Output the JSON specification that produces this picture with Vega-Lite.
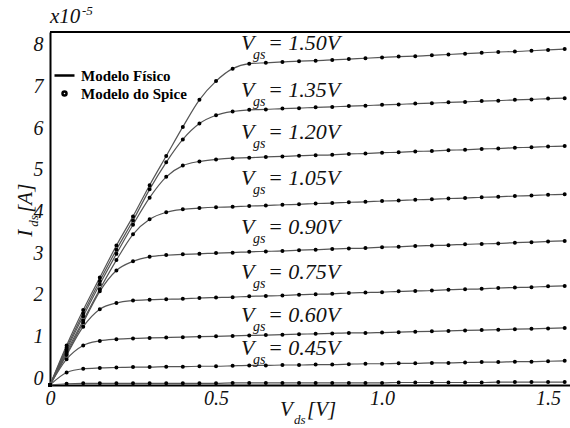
{
  "$schema": "https://vega.github.io/schema/vega-lite/v6.json",
  "width": 520,
  "height": 353,
  "autosize": {"type": "none"},
  "padding": {"left": 50, "top": 32, "right": 0, "bottom": 43},
  "background": "white",
  "config": {
    "view": {"stroke": null}
  },
  "datasets": {
    "curves": [
      {"v": 0.00, "g150": 0, "g135": 0, "g120": 0, "g105": 0, "g090": 0, "g075": 0, "g060": 0, "g045": 0, "g030": 0},
      {"v": 0.05, "g150": 0.95, "g135": 0.9, "g120": 0.85, "g105": 0.8, "g090": 0.75, "g075": 0.72, "g060": 0.62, "g045": 0.3, "g030": 0.03},
      {"v": 0.10, "g150": 1.8, "g135": 1.72, "g120": 1.65, "g105": 1.55, "g090": 1.5, "g075": 1.4, "g060": 0.95, "g045": 0.39, "g030": 0.04},
      {"v": 0.15, "g150": 2.58, "g135": 2.5, "g120": 2.42, "g105": 2.3, "g090": 2.25, "g075": 1.82, "g060": 1.06, "g045": 0.41, "g030": 0.04},
      {"v": 0.20, "g150": 3.35, "g135": 3.25, "g120": 3.15, "g105": 3.0, "g090": 2.75, "g075": 1.97, "g060": 1.10, "g045": 0.42, "g030": 0.04},
      {"v": 0.25, "g150": 4.05, "g135": 3.95, "g120": 3.85, "g105": 3.62, "g090": 2.97, "g075": 2.03, "g060": 1.12, "g045": 0.43, "g030": 0.04},
      {"v": 0.30, "g150": 4.8, "g135": 4.7, "g120": 4.5, "g105": 3.98, "g090": 3.08, "g075": 2.05, "g060": 1.13, "g045": 0.43, "g030": 0.04},
      {"v": 0.35, "g150": 5.5, "g135": 5.35, "g120": 5.0, "g105": 4.15, "g090": 3.12, "g075": 2.06, "g060": 1.14, "g045": 0.44, "g030": 0.04},
      {"v": 0.40, "g150": 6.2, "g135": 5.9, "g120": 5.27, "g105": 4.22, "g090": 3.14, "g075": 2.07, "g060": 1.15, "g045": 0.44, "g030": 0.04},
      {"v": 0.45, "g150": 6.85, "g135": 6.28, "g120": 5.37, "g105": 4.25, "g090": 3.15, "g075": 2.09, "g060": 1.16, "g045": 0.45, "g030": 0.04},
      {"v": 0.50, "g150": 7.3, "g135": 6.48, "g120": 5.42, "g105": 4.27, "g090": 3.17, "g075": 2.10, "g060": 1.17, "g045": 0.45, "g030": 0.04},
      {"v": 0.55, "g150": 7.6, "g135": 6.57, "g120": 5.45, "g105": 4.28, "g090": 3.18, "g075": 2.11, "g060": 1.18, "g045": 0.46, "g030": 0.05},
      {"v": 0.60, "g150": 7.72, "g135": 6.61, "g120": 5.46, "g105": 4.30, "g090": 3.20, "g075": 2.13, "g060": 1.19, "g045": 0.47, "g030": 0.05},
      {"v": 0.65, "g150": 7.74, "g135": 6.62, "g120": 5.48, "g105": 4.31, "g090": 3.21, "g075": 2.14, "g060": 1.20, "g045": 0.47, "g030": 0.05},
      {"v": 0.70, "g150": 7.76, "g135": 6.64, "g120": 5.49, "g105": 4.33, "g090": 3.22, "g075": 2.15, "g060": 1.21, "g045": 0.48, "g030": 0.05},
      {"v": 0.75, "g150": 7.78, "g135": 6.65, "g120": 5.51, "g105": 4.34, "g090": 3.24, "g075": 2.17, "g060": 1.22, "g045": 0.48, "g030": 0.05},
      {"v": 0.80, "g150": 7.79, "g135": 6.67, "g120": 5.52, "g105": 4.36, "g090": 3.25, "g075": 2.18, "g060": 1.23, "g045": 0.49, "g030": 0.05},
      {"v": 0.85, "g150": 7.81, "g135": 6.68, "g120": 5.53, "g105": 4.37, "g090": 3.27, "g075": 2.19, "g060": 1.24, "g045": 0.49, "g030": 0.05},
      {"v": 0.90, "g150": 7.83, "g135": 6.70, "g120": 5.55, "g105": 4.39, "g090": 3.28, "g075": 2.21, "g060": 1.25, "g045": 0.50, "g030": 0.05},
      {"v": 0.95, "g150": 7.85, "g135": 6.71, "g120": 5.56, "g105": 4.40, "g090": 3.29, "g075": 2.22, "g060": 1.25, "g045": 0.51, "g030": 0.05},
      {"v": 1.00, "g150": 7.87, "g135": 6.73, "g120": 5.58, "g105": 4.42, "g090": 3.31, "g075": 2.23, "g060": 1.26, "g045": 0.51, "g030": 0.05},
      {"v": 1.05, "g150": 7.89, "g135": 6.74, "g120": 5.59, "g105": 4.43, "g090": 3.32, "g075": 2.25, "g060": 1.27, "g045": 0.52, "g030": 0.06},
      {"v": 1.10, "g150": 7.90, "g135": 6.76, "g120": 5.61, "g105": 4.45, "g090": 3.34, "g075": 2.26, "g060": 1.28, "g045": 0.52, "g030": 0.06},
      {"v": 1.15, "g150": 7.92, "g135": 6.77, "g120": 5.62, "g105": 4.46, "g090": 3.35, "g075": 2.27, "g060": 1.29, "g045": 0.53, "g030": 0.06},
      {"v": 1.20, "g150": 7.94, "g135": 6.79, "g120": 5.64, "g105": 4.48, "g090": 3.36, "g075": 2.29, "g060": 1.30, "g045": 0.53, "g030": 0.06},
      {"v": 1.25, "g150": 7.96, "g135": 6.80, "g120": 5.65, "g105": 4.49, "g090": 3.38, "g075": 2.30, "g060": 1.31, "g045": 0.54, "g030": 0.06},
      {"v": 1.30, "g150": 7.98, "g135": 6.82, "g120": 5.67, "g105": 4.51, "g090": 3.39, "g075": 2.31, "g060": 1.32, "g045": 0.55, "g030": 0.06},
      {"v": 1.35, "g150": 8.00, "g135": 6.83, "g120": 5.68, "g105": 4.52, "g090": 3.40, "g075": 2.33, "g060": 1.33, "g045": 0.55, "g030": 0.07},
      {"v": 1.40, "g150": 8.01, "g135": 6.85, "g120": 5.70, "g105": 4.54, "g090": 3.42, "g075": 2.34, "g060": 1.34, "g045": 0.56, "g030": 0.07},
      {"v": 1.45, "g150": 8.03, "g135": 6.86, "g120": 5.71, "g105": 4.55, "g090": 3.43, "g075": 2.35, "g060": 1.35, "g045": 0.56, "g030": 0.07},
      {"v": 1.50, "g150": 8.05, "g135": 6.88, "g120": 5.73, "g105": 4.57, "g090": 3.45, "g075": 2.37, "g060": 1.36, "g045": 0.57, "g030": 0.07},
      {"v": 1.55, "g150": 8.07, "g135": 6.89, "g120": 5.74, "g105": 4.58, "g090": 3.46, "g075": 2.38, "g060": 1.37, "g045": 0.58, "g030": 0.07}
    ],
    "labels": [
      {"x": 0.575, "y": 8.22, "t": "= 1.50V"},
      {"x": 0.575, "y": 7.09, "t": "= 1.35V"},
      {"x": 0.575, "y": 6.08, "t": "= 1.20V"},
      {"x": 0.575, "y": 4.98, "t": "= 1.05V"},
      {"x": 0.575, "y": 3.80, "t": "= 0.90V"},
      {"x": 0.575, "y": 2.72, "t": "= 0.75V"},
      {"x": 0.575, "y": 1.68, "t": "= 0.60V"},
      {"x": 0.575, "y": 0.89, "t": "= 0.45V"}
    ]
  },
  "layer": [
    {
      "data": {"name": "curves"},
      "transform": [{"fold": ["g150", "g135", "g120", "g105", "g090", "g075", "g060", "g045", "g030"], "as": ["g", "i"]}],
      "mark": {"type": "line", "color": "#555555", "strokeWidth": 1.2, "interpolate": "monotone"},
      "encoding": {
        "x": {
          "field": "v", "type": "quantitative",
          "scale": {"domain": [0, 1.566], "nice": false, "zero": false},
          "axis": {
            "values": [0, 0.5, 1, 1.5],
            "labelExpr": "datum.value == 0 ? '0' : format(datum.value, '.1f')",
            "title": null, "ticks": false, "grid": false,
            "domainColor": "black", "domainWidth": 2,
            "labelFont": "Liberation Serif", "labelFontStyle": "italic", "labelFontSize": 20,
            "labelColor": "#111111", "labelPadding": 3, "labelFlush": false
          }
        },
        "y": {
          "field": "i", "type": "quantitative",
          "scale": {"domain": [0, 8.48], "nice": false},
          "axis": {
            "values": [0, 1, 2, 3, 4, 5, 6, 7, 8],
            "title": null, "ticks": false, "grid": false,
            "domainColor": "black", "domainWidth": 2,
            "labelFont": "Liberation Serif", "labelFontStyle": "italic", "labelFontSize": 20,
            "labelColor": "#111111", "labelPadding": 7, "labelOffset": -7, "labelFlush": false
          }
        },
        "detail": {"field": "g", "type": "nominal"}
      }
    },
    {
      "data": {"name": "curves"},
      "transform": [{"fold": ["g150", "g135", "g120", "g105", "g090", "g075", "g060", "g045", "g030"], "as": ["g", "i"]}],
      "mark": {"type": "point", "filled": false, "color": "black", "size": 4, "strokeWidth": 2, "opacity": 1},
      "encoding": {
        "x": {"field": "v", "type": "quantitative"},
        "y": {"field": "i", "type": "quantitative"},
        "shape": {
          "datum": "Modelo do Spice", "type": "nominal",
          "scale": {"domain": ["Modelo Físico", "Modelo do Spice"], "range": ["M-5,0H5", "circle"]},
          "legend": {
            "orient": "none", "legendX": 7, "legendY": 36, "title": null, "padding": 0,
            "symbolSize": 16, "labelOffset": 9, "rowPadding": 2,
            "symbolStrokeColor": "black", "symbolStrokeWidth": 2.5, "symbolFillColor": "black",
            "labelFont": "Liberation Serif", "labelFontWeight": "bold", "labelFontSize": 15, "labelColor": "black",
            "encode": {"symbols": {"update": {"stroke": {"value": "black"}, "strokeWidth": {"value": 2.5}, "fill": {"value": "black"}, "opacity": {"value": 1}}}}
          }
        }
      }
    },
    {
      "data": {"values": [{}]},
      "mark": {"type": "rule", "color": "black", "strokeWidth": 2},
      "encoding": {"y": {"datum": 8.48}}
    },
    {
      "data": {"name": "labels"},
      "mark": {"type": "text", "font": "Liberation Serif", "fontStyle": "italic", "color": "#111111", "text": "V", "align": "left", "baseline": "middle", "fontSize": 22},
      "encoding": {"x": {"field": "x", "type": "quantitative"}, "y": {"field": "y", "type": "quantitative"}}
    },
    {
      "data": {"name": "labels"},
      "mark": {"type": "text", "font": "Liberation Serif", "fontStyle": "italic", "color": "#111111", "text": "gs", "align": "left", "baseline": "middle", "fontSize": 14, "dx": 12, "dy": 12},
      "encoding": {"x": {"field": "x", "type": "quantitative"}, "y": {"field": "y", "type": "quantitative"}}
    },
    {
      "data": {"name": "labels"},
      "mark": {"type": "text", "font": "Liberation Serif", "fontStyle": "italic", "color": "#111111", "align": "left", "baseline": "middle", "fontSize": 22, "dx": 27},
      "encoding": {"x": {"field": "x", "type": "quantitative"}, "y": {"field": "y", "type": "quantitative"}, "text": {"field": "t"}}
    },
    {
      "data": {"values": [{}]},
      "mark": {"type": "text", "font": "Liberation Serif", "fontStyle": "italic", "color": "#111111", "text": "x10", "align": "left", "baseline": "middle", "fontSize": 21},
      "encoding": {"x": {"datum": 0}, "y": {"datum": 8.85}}
    },
    {
      "data": {"values": [{}]},
      "mark": {"type": "text", "font": "Liberation Serif", "fontStyle": "italic", "color": "#111111", "text": "-5", "align": "left", "baseline": "middle", "fontSize": 13, "dx": 32, "dy": -6},
      "encoding": {"x": {"datum": 0}, "y": {"datum": 8.85}}
    },
    {
      "data": {"values": [{}]},
      "mark": {"type": "text", "font": "Liberation Serif", "fontStyle": "italic", "color": "#111111", "text": "V", "align": "left", "baseline": "middle", "fontSize": 21},
      "encoding": {"x": {"datum": 0.693}, "y": {"datum": -0.6}}
    },
    {
      "data": {"values": [{}]},
      "mark": {"type": "text", "font": "Liberation Serif", "fontStyle": "italic", "color": "#111111", "text": "ds", "align": "left", "baseline": "middle", "fontSize": 13, "dx": 14, "dy": 10},
      "encoding": {"x": {"datum": 0.693}, "y": {"datum": -0.6}}
    },
    {
      "data": {"values": [{}]},
      "mark": {"type": "text", "font": "Liberation Serif", "fontStyle": "italic", "color": "#111111", "text": "[V]", "align": "left", "baseline": "middle", "fontSize": 21, "dx": 27},
      "encoding": {"x": {"datum": 0.693}, "y": {"datum": -0.6}}
    },
    {
      "data": {"values": [{}]},
      "mark": {"type": "text", "font": "Liberation Serif", "fontStyle": "italic", "color": "#111111", "text": "I", "align": "left", "baseline": "middle", "fontSize": 21, "angle": 270},
      "encoding": {"x": {"datum": -0.072}, "y": {"datum": 3.56}}
    },
    {
      "data": {"values": [{}]},
      "mark": {"type": "text", "font": "Liberation Serif", "fontStyle": "italic", "color": "#111111", "text": "ds", "align": "left", "baseline": "middle", "fontSize": 13, "angle": 270, "dx": 10, "dy": 8},
      "encoding": {"x": {"datum": -0.072}, "y": {"datum": 3.56}}
    },
    {
      "data": {"values": [{}]},
      "mark": {"type": "text", "font": "Liberation Serif", "fontStyle": "italic", "color": "#111111", "text": "[A]", "align": "left", "baseline": "middle", "fontSize": 21, "angle": 270, "dx": 24},
      "encoding": {"x": {"datum": -0.072}, "y": {"datum": 3.56}}
    }
  ]
}
